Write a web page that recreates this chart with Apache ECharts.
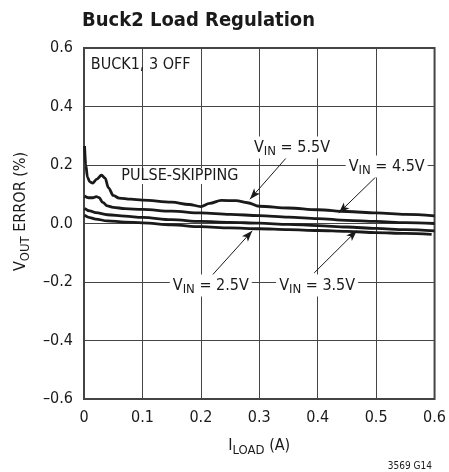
<!DOCTYPE html>
<html><head><meta charset="utf-8">
<script src="https://cdn.jsdelivr.net/npm/echarts@6/dist/echarts.min.js"></script>
<style>html,body{margin:0;padding:0;background:#fff}#c{width:449px;height:472px}</style>
</head><body><div id="c"></div>
<script>
// ---- data ----
const xTickLabels = ['0','0.1','0.2','0.3','0.4','0.5','0.6'];
const yTickLabels = ['–0.6','–0.4','–0.2','0.0','0.2','0.4','0.6'];
const seriesNames = ['VIN = 5.5V','VIN = 4.5V','VIN = 3.5V','VIN = 2.5V'];
const vin55 = [[0.001,0.265],[0.003,0.2],[0.006,0.158],[0.01,0.142],[0.015,0.138],[0.022,0.152],[0.03,0.165],[0.036,0.155],[0.042,0.122],[0.05,0.096],[0.06,0.087],[0.08,0.083],[0.1,0.08],[0.15,0.073],[0.18,0.065],[0.2,0.058],[0.215,0.069],[0.235,0.079],[0.26,0.078],[0.28,0.071],[0.3,0.059],[0.35,0.053],[0.4,0.047],[0.45,0.041],[0.5,0.036],[0.55,0.031],[0.6,0.026]];
const vin45 = [[0.001,0.094],[0.008,0.088],[0.015,0.088],[0.021,0.092],[0.026,0.088],[0.032,0.072],[0.04,0.06],[0.05,0.055],[0.07,0.051],[0.1,0.048],[0.15,0.042],[0.2,0.036],[0.25,0.031],[0.3,0.027],[0.35,0.022],[0.4,0.017],[0.45,0.011],[0.5,0.007],[0.55,0.003],[0.6,0.0]];
const vin35 = [[0.001,0.052],[0.01,0.043],[0.02,0.037],[0.04,0.03],[0.07,0.025],[0.1,0.021],[0.15,0.013],[0.2,0.007],[0.25,0.004],[0.3,0.001],[0.35,-0.003],[0.4,-0.007],[0.45,-0.012],[0.5,-0.017],[0.55,-0.021],[0.6,-0.025]];
const vin25 = [[0.001,0.029],[0.01,0.02],[0.02,0.015],[0.04,0.009],[0.07,0.005],[0.1,0.002],[0.15,-0.005],[0.2,-0.011],[0.25,-0.015],[0.3,-0.018],[0.35,-0.021],[0.4,-0.024],[0.45,-0.027],[0.5,-0.031],[0.55,-0.034],[0.595,-0.037]];

// ---- annotations (in data coordinates) ----
const labelTexts = ['BUCK1, 3 OFF','PULSE-SKIPPING','{v|V}{s|IN}{v| = 5.5V}','{v|V}{s|IN}{v| = 4.5V}','{v|V}{s|IN}{v| = 2.5V}','{v|V}{s|IN}{v| = 3.5V}'];
const labelAt = [[0.097,0.542],[0.164,0.162],[0.356,0.26],[0.518,0.195],[0.217,-0.212],[0.399,-0.212]];
const labelBg = [false,true,true,true,true,true];
const arrowFrom = [[0.346,0.224],[0.508,0.176],[0.218,-0.18],[0.394,-0.169]];
const arrowTo = [[0.284,0.083],[0.436,0.036],[0.288,-0.025],[0.467,-0.024]];

const FF = "'Liberation Sans Narrow','Arial Narrow','DejaVu Sans Condensed',sans-serif";
const INK = '#1a1a1a';
const rich = {
  v: {fontFamily: FF, fontSize: 16, lineHeight: 16, color: INK, verticalAlign: 'middle'},
  s: {fontFamily: FF, fontSize: 13, lineHeight: 22, color: INK, verticalAlign: 'bottom'}
};

const chart = echarts.init(document.getElementById('c'), null, {renderer: 'canvas'});
const curves = [vin55, vin45, vin35, vin25];

const series = curves.map((d, i) => ({
  name: seriesNames[i], type: 'line', data: d, showSymbol: false, symbol: 'none',
  smooth: 0.35, smoothMonotone: 'x',
  lineStyle: {color: INK, width: 2.8}, z: 3
}));

series.push({
  type: 'line', data: [], silent: true, z: 5,
  markLine: {
    silent: true, animation: false, symbol: ['none','arrow'], symbolSize: [6, 11],
    lineStyle: {color: INK, width: 1, type: 'solid'}, label: {show: false},
    emphasis: {disabled: true},
    data: arrowFrom.map((f, i) => [{coord: f}, {coord: arrowTo[i]}])
  },
  markPoint: {
    silent: true, animation: false, symbol: 'circle', symbolSize: 1,
    itemStyle: {color: 'rgba(0,0,0,0)'},
    data: labelTexts.map((t, i) => ({
      coord: labelAt[i],
      label: {
        show: true, position: 'inside', formatter: t, rich: rich,
        fontFamily: FF, fontSize: 16, color: INK,
        backgroundColor: labelBg[i] ? '#fff' : 'transparent', padding: [0, 3]
      }
    }))
  }
});

chart.setOption({
  animation: false,
  backgroundColor: '#fff',
  title: [
    {text: 'Buck2 Load Regulation', left: 77, top: 6,
     textStyle: {fontFamily: FF, fontSize: 20, fontWeight: 'bold', color: INK}},
    {text: '3569 G14', right: 12, top: 456,
     textStyle: {fontFamily: FF, fontSize: 10, fontWeight: 'normal', color: INK}}
  ],
  grid: {left: 84, top: 48, width: 352, height: 351, show: true, borderColor: '#444', borderWidth: 2, backgroundColor: 'transparent'},
  xAxis: {
    type: 'value', min: 0, max: 0.6, interval: 0.1,
    axisLine: {show: false}, axisTick: {show: false},
    splitLine: {show: true, lineStyle: {color: '#444', width: 1}},
    axisLabel: {margin: 11, fontFamily: FF, fontSize: 16, color: INK,
      formatter: v => xTickLabels[Math.round(v * 10)]},
    name: '{v|I}{s|LOAD}{v| (A)}', nameLocation: 'middle', nameGap: 36,
    nameTextStyle: {rich: rich, fontFamily: FF, fontSize: 16, color: INK}
  },
  yAxis: {
    type: 'value', min: -0.6, max: 0.6, interval: 0.2,
    axisLine: {show: false}, axisTick: {show: false},
    splitLine: {show: true, lineStyle: {color: '#444', width: 1}},
    axisLabel: {margin: 11, fontFamily: FF, fontSize: 16, color: INK,
      formatter: v => yTickLabels[Math.round((v + 0.6) / 0.2)]},
    name: '{v|V}{s|OUT}{v| ERROR (%)}', nameLocation: 'middle', nameGap: 42,
    nameTextStyle: {rich: rich, fontFamily: FF, fontSize: 16, color: INK, padding: [0, 0, 0, 24]}
  },
  series: series
});
</script>
</body></html>
